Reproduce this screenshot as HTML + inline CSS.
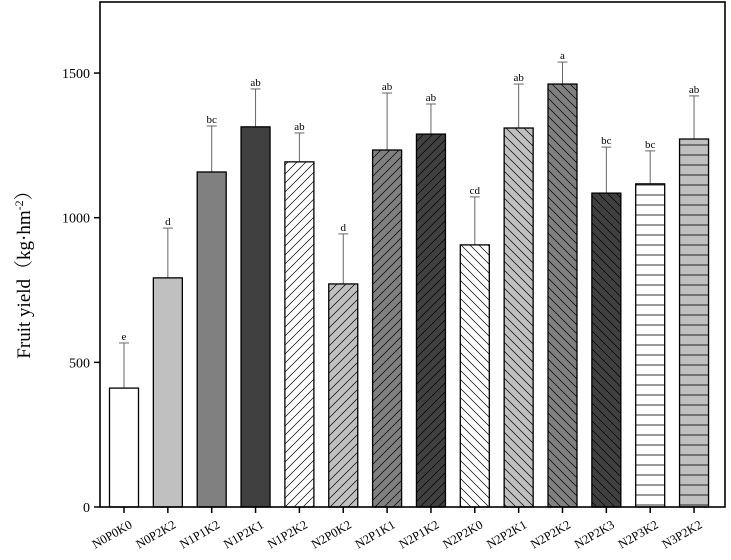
<!DOCTYPE html>
<html><head><meta charset="utf-8"><style>
body{margin:0;background:#fff}
svg{font-family:"Liberation Serif","Noto Serif CJK SC",serif}
</style></head><body>
<svg id="c" width="731" height="555">
<defs>
<pattern id="pf" width="9" height="9" patternUnits="userSpaceOnUse"><path d="M-1,10 L10,-1 M-1,1 L1,-1 M8,10 L10,8" stroke="#000" stroke-width="0.7"/></pattern>
<pattern id="pb" width="9" height="9" patternUnits="userSpaceOnUse"><path d="M-1,-1 L10,10 M-1,8 L1,10 M8,-1 L10,1" stroke="#000" stroke-width="0.7"/></pattern>
<pattern id="ph" width="9" height="10" patternUnits="userSpaceOnUse"><path d="M0,5 L9,5" stroke="#000" stroke-width="0.8"/></pattern>
</defs>
</svg>
<script>
const categories=["N0P0K0","N0P2K2","N1P1K2","N1P2K1","N1P2K2","N2P0K2","N2P1K1","N2P1K2","N2P2K0","N2P2K1","N2P2K2","N2P2K3","N2P3K2","N3P2K2"];
const values=[411,792,1158,1314,1193,771,1234,1289,906,1310,1462,1085,1117,1272];
const errors=[156,172,159,131,100,173,197,104,166,152,76,159,114,149];
const letters=["e","d","bc","ab","ab","d","ab","ab","cd","ab","a","bc","bc","ab"];
const yTicks=[0,500,1000,1500];
const fills=["#fff","#c0c0c0","#808080","#404040","#fff","#c0c0c0","#808080","#404040","#fff","#c0c0c0","#808080","#404040","#fff","#c0c0c0"];
const pats=["","","","","pf","pf","pf","pf","pb","pb","pb","pb","ph","ph"];
const svg=document.getElementById('c');const NS="http://www.w3.org/2000/svg";
const X0=100,X1=725,Y0=507,Ytop=2;
const y=v=>Y0-v*0.2893;
const x=i=>124+i*43.85;
function mk(t,a,p){const e=document.createElementNS(NS,t);for(const k in a)e.setAttribute(k,a[k]);(p||svg).appendChild(e);return e;}
categories.forEach((c,i)=>{
 const cx=x(i),bw=29,top=y(values[i]);
 const g=mk('g',{});
 
 
 const et=y(values[i]+errors[i]);
 mk('line',{x1:cx,x2:cx,y1:top,y2:et,stroke:'#666','stroke-width':1},g);
 mk('line',{x1:cx-5,x2:cx+5,y1:et,y2:et,stroke:'#666','stroke-width':1},g);
 mk('rect',{x:cx-bw/2,y:top,width:bw,height:Y0-top,fill:fills[i]},g);
 if(pats[i])mk('rect',{x:cx-bw/2,y:top,width:bw,height:Y0-top,fill:'url(#'+pats[i]+')'},g);
 mk('rect',{x:cx-bw/2,y:top,width:bw,height:Y0-top,fill:'none',stroke:'#000','stroke-width':1.3},g);
 const t=mk('text',{x:cx,y:et-3,'text-anchor':'middle','font-size':11},g);t.textContent=letters[i];
 
 
 mk('line',{x1:cx,x2:cx,y1:Y0,y2:Y0+6,stroke:'#000','stroke-width':1.5});
 const l=mk('text',{x:cx+9,y:Y0+20,'text-anchor':'end','font-size':12.5,transform:`rotate(-30 ${cx+9} ${Y0+20})`});l.textContent=c;
 
 
});
yTicks.forEach(v=>{
 mk('line',{x1:X0-6,x2:X0,y1:y(v),y2:y(v),stroke:'#000','stroke-width':1.5});
 const t=mk('text',{x:X0-10,y:y(v)+5,'text-anchor':'end','font-size':14});t.textContent=v;
 
 
});
const f=mk('rect',{x:X0,y:Ytop,width:X1-X0,height:Y0-Ytop,fill:'none',stroke:'#000','stroke-width':1.6});


const yt=mk('text',{x:30,y:270,'text-anchor':'middle','font-size':19,transform:'rotate(-90 30 270)'});
yt.innerHTML='Fruit yield（kg·hm<tspan dy="-7" font-size="12">-2</tspan><tspan dy="7">）</tspan>';


</script>
</body></html>
